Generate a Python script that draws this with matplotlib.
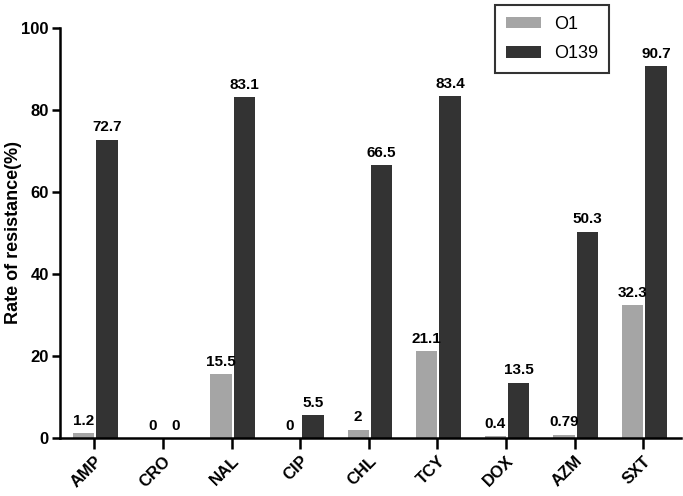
import numpy as np
import matplotlib.pyplot as plt
from matplotlib.legend_handler import HandlerPatch
from matplotlib.patches import Rectangle

plt.rcParams['font.family'] = ['Liberation Sans', 'DejaVu Sans']

drugs = ['AMP', 'CRO', 'NAL', 'CIP', 'CHL', 'TCY', 'DOX', 'AZM', 'SXT']
o1 = [1.2, 0, 15.5, 0, 2, 21.1, 0.4, 0.79, 32.3]
o139 = [72.7, 0, 83.1, 5.5, 66.5, 83.4, 13.5, 50.3, 90.7]
o1_labels = ['1.2', '0', '15.5', '0', '2', '21.1', '0.4', '0.79', '32.3']
o139_labels = ['72.7', '0', '83.1', '5.5', '66.5', '83.4', '13.5', '50.3', '90.7']

fig = plt.figure(figsize=(6.83, 4.96), dpi=100)
ax = fig.add_axes([0.088, 0.117, 0.909, 0.827])

x = np.arange(len(drugs))
w = 0.31
b1 = ax.bar(x - w / 2, o1, w, color='#a5a5a5', label='O1')
b2 = ax.bar(x + w / 2 + 0.03, o139, w, color='#333333', label='O139')

for bars, labs in [(b1, o1_labels), (b2, o139_labels)]:
    for rect, lab in zip(bars, labs):
        ax.text(rect.get_x() + rect.get_width() / 2, rect.get_height() + 1.3, lab,
                ha='center', va='bottom', fontsize=11, fontweight='bold')

ax.set_xlim(-0.5, 8.55)
ax.set_ylim(0, 100)
ax.set_yticks([0, 20, 40, 60, 80, 100])
ax.set_xticks(x)
ax.set_xticklabels(drugs, rotation=45, ha='right', rotation_mode='anchor')
for lab in ax.get_xticklabels() + ax.get_yticklabels():
    lab.set_fontweight('bold')
    lab.set_fontsize(12)
ax.set_ylabel('Rate of resistance(%)', fontsize=13, fontweight='bold')
ax.yaxis.set_label_coords(-0.062, 0.5)

for s in ['top', 'right']:
    ax.spines[s].set_visible(False)
for s in ['left', 'bottom']:
    ax.spines[s].set_linewidth(1.8)
ax.tick_params(axis='y', width=1.8, length=6, pad=2)
ax.tick_params(axis='x', width=1.8, length=8, pad=3)

hp = HandlerPatch(xpad=0.55)
leg = ax.legend(loc='upper left', bbox_to_anchor=(0.70, 1.056), fontsize=13,
                frameon=True, fancybox=False, edgecolor='black',
                handlelength=1.95, handleheight=0.6, borderpad=0.6,
                labelspacing=0.7, handletextpad=0.75, borderaxespad=0,
                handler_map={Rectangle: hp})
leg.get_frame().set_linewidth(1.5)

plt.savefig('out.png', dpi=100)
